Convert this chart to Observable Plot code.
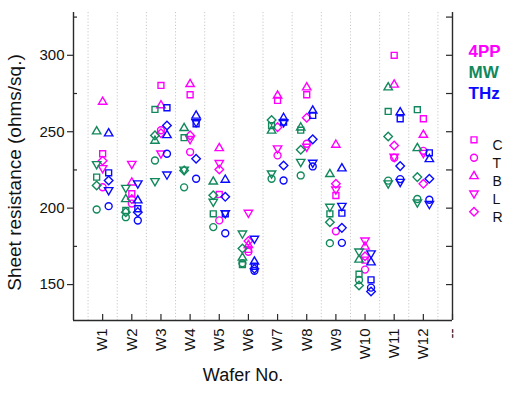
<!DOCTYPE html>
<html>
<head>
<meta charset="utf-8">
<script src="https://cdn.jsdelivr.net/npm/d3@7"></script>
<script src="https://cdn.jsdelivr.net/npm/@observablehq/plot@0.6"></script>
<style>
  html, body { margin: 0; padding: 0; background: #fff; }
  svg { display: block; }
</style>
</head>
<body>
<div id="chart"></div>
<script>
// ---------------- data ----------------
const wafers = ["W1","W2","W3","W4","W5","W6","W7","W8","W9","W10","W11","W12"];
const extraTickLabel = "--";
const yMajorTicks = [150, 200, 250, 300];
const yMinorTicks = [175, 225, 275, 325];
const symbolKeys = ["C", "T", "B", "L", "R"];
const methods = ["4PP", "MW", "THz"];

// 4PP (magenta)
const pp_C = [235.6, 209.4, 280.3, 274.2, 209.0, 173.0, 270.5, 274.2, 208.3, 166.0, 300.0, 258.5];
const pp_T = [213.7, 203.0, 251.0, 236.7, 192.0, 171.5, 234.5, 242.1, 184.9, 159.8, 233.0, 237.5];
const pp_B = [269.8, 217.0, 267.5, 281.4, 239.5, 176.0, 273.8, 279.2, 241.7, 175.0, 281.0, 248.2];
const pp_L = [226.0, 228.8, 235.6, 245.0, 229.3, 196.8, 238.9, 240.0, 212.0, 178.6, 233.4, 236.0];
const pp_R = [231.0, 206.0, 249.0, 247.6, 225.3, 178.5, 253.0, 259.2, 215.9, 168.5, 241.0, 215.9];
// MW (green)
const mw_C = [220.3, 198.5, 264.6, 246.1, 196.3, 163.0, 254.0, 251.0, 196.3, 156.8, 263.3, 264.4];
const mw_T = [199.1, 194.1, 231.2, 213.6, 187.6, 164.0, 219.2, 221.4, 177.1, 153.0, 218.0, 206.0];
const mw_B = [250.4, 206.1, 244.3, 252.6, 217.6, 167.8, 250.9, 253.0, 222.5, 166.5, 279.2, 239.5];
const mw_L = [228.6, 213.1, 217.5, 225.0, 204.0, 183.2, 222.5, 230.1, 200.7, 171.4, 216.0, 203.5];
const mw_R = [214.8, 197.4, 247.6, 224.7, 208.5, 173.6, 257.6, 238.2, 190.8, 149.4, 246.9, 220.3];
// THz (blue)
const thz_C = [223.1, 199.6, 265.7, 255.2, 196.3, 162.0, 256.3, 260.7, 196.7, 153.1, 258.5, 236.2];
const thz_T = [201.3, 191.9, 235.6, 219.2, 183.6, 159.0, 218.1, 227.3, 177.3, 148.0, 219.0, 205.5];
const thz_B = [249.1, 205.3, 248.0, 260.7, 218.8, 165.2, 259.2, 264.0, 226.2, 164.7, 262.9, 232.3];
const thz_L = [211.6, 216.0, 221.8, 256.0, 196.5, 179.8, 256.0, 229.5, 201.3, 170.2, 217.0, 202.5];
const thz_R = [218.1, 197.4, 254.1, 232.3, 207.4, 160.3, 227.9, 245.0, 187.1, 145.5, 227.5, 219.2];

// ---------------- styling ----------------
const W = 515, H = 394;
const mL = 73, mR = 63, mT = 12, mB = 74;
const frameW = W - mL - mR, frameH = H - mT - mB;
const colors = {"4PP": "#ff00ff", "MW": "#12895c", "THz": "#0a0aff"};
const offsets = {"4PP": 0, "MW": -6, "THz": 6};
const axisColor = "#2a2a2a";

// custom symbols (size -> r = sqrt(size/pi))
const rOf = s => Math.sqrt(s / Math.PI);
const symSquare = {draw(c, s) { const h = rOf(s) * 0.74; c.moveTo(-h, -h); c.lineTo(h, -h); c.lineTo(h, h); c.lineTo(-h, h); c.closePath(); }};
const symCircle = {draw(c, s) { const r = rOf(s) * 0.87; c.moveTo(r, 0); c.arc(0, 0, r, 0, 2 * Math.PI); }};
const symTriUp = {draw(c, s) { const r = rOf(s); const w = r * 1.05, t = r * 1.1, b = r * 0.7; c.moveTo(0, -t); c.lineTo(w, b); c.lineTo(-w, b); c.closePath(); }};
const symTriDown = {draw(c, s) { const r = rOf(s); const w = r * 1.05, t = r * 1.1, b = r * 0.7; c.moveTo(0, t); c.lineTo(w, -b); c.lineTo(-w, -b); c.closePath(); }};
const symDiamond = {draw(c, s) { const h = rOf(s) * 1.07; c.moveTo(0, -h); c.lineTo(h, 0); c.lineTo(0, h); c.lineTo(-h, 0); c.closePath(); }};
const symbols = {C: symSquare, T: symCircle, B: symTriUp, L: symTriDown, R: symDiamond};

const series = {
  "4PP": {C: pp_C, T: pp_T, B: pp_B, L: pp_L, R: pp_R},
  "MW": {C: mw_C, T: mw_T, B: mw_B, L: mw_L, R: mw_R},
  "THz": {C: thz_C, T: thz_T, B: thz_B, L: thz_L, R: thz_R}
};

const dotMarks = [];
for (const m of methods) {
  for (const k of symbolKeys) {
    const rows = series[m][k].map((v, i) => ({pos: i + 1, value: v}));
    dotMarks.push(Plot.dot(rows, {
      x: "pos", y: "value", symbol: symbols[k], r: 4,
      stroke: colors[m], strokeWidth: 1.4, fill: "none", dx: offsets[m]
    }));
  }
}

const xTicks = wafers.map((w, i) => ({pos: i + 1, label: w}));
xTicks.push({pos: wafers.length + 1, label: extraTickLabel});
const gridPos = d3.range(0, wafers.length + 1).map(i => i + 0.5);

const legendMarks = [];
methods.forEach((m, i) => {
  legendMarks.push(Plot.text([m], {
    text: d => d, frameAnchor: "top-right", textAnchor: "start",
    dx: 16, dy: 32.5 + i * 21, fill: colors[m], fontSize: 17, fontWeight: "bold"
  }));
});
symbolKeys.forEach((k, i) => {
  legendMarks.push(Plot.dot([k], {
    frameAnchor: "top-right", dx: 21.5, dy: 127.3 + i * 18, symbol: symbols[k], r: 4,
    stroke: colors["4PP"], strokeWidth: 1.4, fill: "none"
  }));
  legendMarks.push(Plot.text([k], {
    text: d => d, frameAnchor: "top-right", textAnchor: "start",
    dx: 40, dy: 127.3 + i * 18, fill: "#111", fontSize: 14
  }));
});

const chart = Plot.plot({
  width: W, height: H,
  marginLeft: mL, marginRight: mR, marginTop: mT, marginBottom: mB,
  style: {fontFamily: "'Liberation Sans', Arial, sans-serif", background: "#fff", overflow: "visible"},
  x: {domain: [0, wafers.length + 1], axis: null},
  y: {domain: [126.5, 328], axis: null},
  marks: [
    // dotted grid
    Plot.ruleX(gridPos, {x: d => d, stroke: "#c8c8c8", strokeDasharray: "1.2,2", strokeWidth: 1}),
    // axis lines
    Plot.ruleX([0], {x: d => d, stroke: axisColor, strokeWidth: 1.4}),
    Plot.ruleX([wafers.length + 1], {x: d => d, stroke: axisColor, strokeWidth: 1.4}),
    Plot.ruleY([126.5], {y: d => d, stroke: axisColor, strokeWidth: 1.4}),
    // left ticks
    Plot.tickY(yMajorTicks, {y: d => d, insetLeft: -6, insetRight: frameW, stroke: axisColor, strokeWidth: 1.2}),
    Plot.tickY(yMinorTicks, {y: d => d, insetLeft: 0, insetRight: frameW - 4, stroke: axisColor, strokeWidth: 1.2}),
    // right ticks
    Plot.tickY(yMajorTicks.concat(yMinorTicks), {y: d => d, insetLeft: frameW - 6, stroke: axisColor, strokeWidth: 1.2}),
    // bottom ticks
    Plot.tickX(xTicks, {x: "pos", insetTop: frameH - 6, stroke: axisColor, strokeWidth: 1.2}),
    // tick labels
    Plot.text(yMajorTicks, {y: d => d, text: d => String(d), frameAnchor: "left", textAnchor: "end", dx: -9, fontSize: 15, fill: "#111"}),
    Plot.text(xTicks, {x: "pos", text: "label", frameAnchor: "bottom", rotate: -90, textAnchor: "end", lineAnchor: "middle", dy: 8, fontSize: 15, fill: "#111"}),
    // axis titles
    Plot.text(["Wafer No."], {text: d => d, frameAnchor: "bottom", textAnchor: "middle", dy: 60, dx: -20, fontSize: 18, fill: "#111"}),
    Plot.text(["Sheet resistance (ohms/sq.)"], {text: d => d, frameAnchor: "left", textAnchor: "middle", lineAnchor: "middle", rotate: -90, dx: -59, dy: 6, fontSize: 19, fill: "#111"}),
    ...dotMarks,
    ...legendMarks
  ]
});
document.getElementById("chart").appendChild(chart);
</script>
</body>
</html>
